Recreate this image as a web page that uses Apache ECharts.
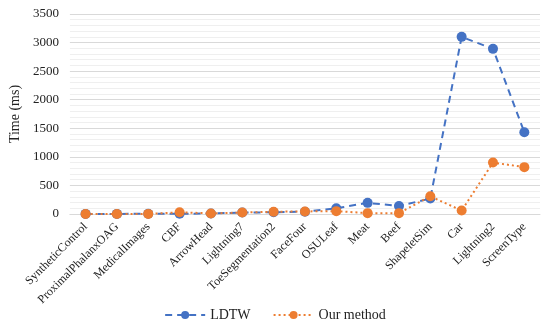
<!DOCTYPE html>
<html><head><meta charset="utf-8">
<script src="https://cdn.jsdelivr.net/npm/echarts@6/dist/echarts.min.js"></script>
<style>html,body{margin:0;padding:0;background:#fff}#c{width:550px;height:327px}</style>
</head><body><div id="c"></div>
<script>
const categories = ["SyntheticControl","ProximalPhalanxOAG","MedicalImages","CBF","ArrowHead","Lightning7","ToeSegmentation2","FaceFour","OSULeaf","Meat","Beef","ShapeletSim","Car","Lightning2","ScreenType"];
const ldtw = [2, 2, 3, 5, 8, 25, 30, 40, 100, 195, 140, 270, 3100, 2890, 1430];
const ours = [0, 1, 2, 30, 10, 25, 40, 45, 50, 15, 15, 310, 60, 900, 820];
const yTicks = [0, 500, 1000, 1500, 2000, 2500, 3000, 3500];
const font = "Liberation Serif";
const chart = echarts.init(document.getElementById('c'));
chart.setOption({
  animation: false,
  textStyle: {fontFamily: font},
  grid: {left: 63, right: 10, top: 14, bottom: 113},
  legend: {
    bottom: 0, left: 'center', itemWidth: 40, itemHeight: 10, itemGap: 22,
    textStyle: {fontFamily: font, fontSize: 14, color: '#222'},
    data: ['LDTW', 'Our method']
  },
  xAxis: {
    type: 'category', data: categories, boundaryGap: true,
    axisLine: {lineStyle: {color: '#d9d9d9'}},
    axisTick: {show: false},
    axisLabel: {rotate: 45, interval: 0, fontFamily: font, fontSize: 12, color: '#222', margin: 11}
  },
  yAxis: {
    type: 'value', min: yTicks[0], max: yTicks[yTicks.length-1], interval: 500,
    name: 'Time (ms)', nameLocation: 'middle', nameGap: 46,
    nameTextStyle: {fontFamily: font, fontSize: 14, color: '#222'},
    axisLine: {show: false}, axisTick: {show: false},
    axisLabel: {fontFamily: font, fontSize: 13, color: '#222', margin: 11, formatter: v => String(v)},
    splitLine: {lineStyle: {color: '#d9d9d9', width: 1}},
    minorTick: {show: false, splitNumber: 5},
    minorSplitLine: {show: true, lineStyle: {color: '#efefef', width: 1}}
  },
  series: [
    {name: 'LDTW', type: 'line', data: ldtw, symbol: 'circle', symbolSize: 10,
     itemStyle: {color: '#4472C4'}, lineStyle: {color: '#4472C4', width: 2, type: [7, 5]}},
    {name: 'Our method', type: 'line', data: ours, symbol: 'circle', symbolSize: 10,
     itemStyle: {color: '#ED7D31'}, lineStyle: {color: '#ED7D31', width: 2, type: [2, 3]}}
  ]
});
</script></body></html>
